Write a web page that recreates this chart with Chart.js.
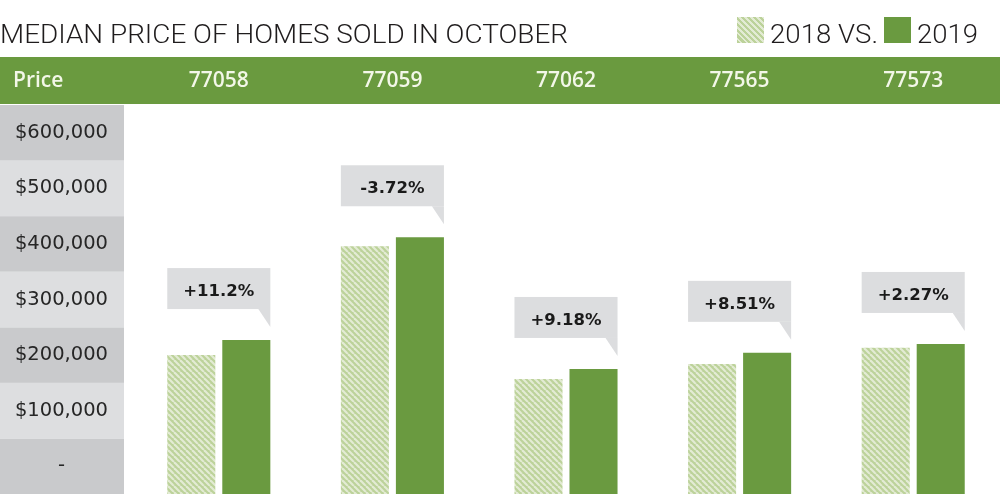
<!DOCTYPE html>
<html>
<head>
<meta charset="utf-8">
<script src="https://cdn.jsdelivr.net/npm/chart.js@4"></script>
<style>
  html, body { margin: 0; padding: 0; background: #fff; }
  #wrap { position: relative; width: 1000px; height: 496px; overflow: hidden; }
  canvas { position: absolute; left: 0; top: 0; }
  .hd { position: absolute; top: 22px; font-family: Roboto; font-weight: 300; font-size: 25px; line-height: 25px; color: #1f1c1d; white-space: nowrap; transform-origin: 0 0; }
  .sw { position: absolute; top: 17px; width: 27px; height: 26px; }
</style>
</head>
<body>
<div id="wrap">
  <canvas id="myChart" width="1000" height="496"></canvas>
  <div class="hd" data-w="568" style="left:0">MEDIAN PRICE OF HOMES SOLD IN OCTOBER</div>
  <div class="sw" style="left:737px;background:repeating-linear-gradient(45deg,#bcd29a 0 2.2px,#e3ebd4 2.2px 4.2px)"></div>
  <div class="hd" data-w="108" style="left:770px">2018 VS.</div>
  <div class="sw" style="left:884px;background:#6a9a40"></div>
  <div class="hd" data-w="61" style="left:917px">2019</div>
</div>
<script>
const zipCodes = ["77058", "77059", "77062", "77565", "77573"];
const price2018 = [200000, 396000, 157000, 184000, 213000];
const price2019 = [227000, 412000, 175000, 204000, 220000];
const changeLabels = ["+11.2%", "-3.72%", "+9.18%", "+8.51%", "+2.27%"];
const priceTicks = [0, 100000, 200000, 300000, 400000, 500000, 600000];
const priceTickLabels = ["-", "$100,000", "$200,000", "$300,000", "$400,000", "$500,000", "$600,000"];

// squeeze the header texts to the condensed widths of the original
document.querySelectorAll(".hd").forEach((el) => {
  const w = el.getBoundingClientRect().width;
  el.style.transform = "scaleX(" + el.dataset.w / w + ")";
});

function hatch() {
  const c = document.createElement("canvas");
  c.width = c.height = 6;
  const g = c.getContext("2d");
  g.fillStyle = "#bcd29a";
  g.fillRect(0, 0, 6, 6);
  g.strokeStyle = "#e3ebd4";
  g.lineWidth = 2.2;
  for (const k of [-1, 0, 1]) {
    g.beginPath();
    g.moveTo(k * 6, 0);
    g.lineTo(k * 6 + 6, 6);
    g.stroke();
  }
  return g.createPattern(c, "repeat");
}

const decor = {
  id: "decor",
  beforeDraw(chart) {
    const { ctx, scales: { y } } = chart;
    ctx.save();
    ctx.fillStyle = "#6a9a3f";
    ctx.fillRect(0, 57, chart.width, 47);
    priceTicks.forEach((v, i) => {
      const top = y.getPixelForValue(v + 50000);
      const bot = y.getPixelForValue(v - 50000);
      ctx.fillStyle = i % 2 === 0 ? "#c9cacc" : "#dddee0";
      ctx.fillRect(0, top, 124, bot - top);
    });
    ctx.fillStyle = "#f3f7e8";
    ctx.font = '600 21px "Open Sans"';
    ctx.textBaseline = "middle";
    ctx.fillText("Price", 13, 81);
    ctx.restore();
  },
  afterDatasetsDraw(chart) {
    const { ctx } = chart;
    const a = chart.getDatasetMeta(0).data;
    const b = chart.getDatasetMeta(1).data;
    ctx.save();
    ctx.font = 'bold 16.5px "DejaVu Sans"';
    ctx.textAlign = "center";
    changeLabels.forEach((t, i) => {
      const l = a[i].x - a[i].width / 2;
      const r = b[i].x + b[i].width / 2;
      const bottom = b[i].y - 31;
      const top = bottom - 41;
      ctx.fillStyle = "#dcdddf";
      ctx.fillRect(l, top, r - l, 41);
      ctx.beginPath();
      ctx.moveTo(r - 12, bottom);
      ctx.lineTo(r, bottom + 18);
      ctx.lineTo(r, bottom);
      ctx.closePath();
      ctx.fill();
      ctx.fillStyle = "#1a1a1a";
      ctx.fillText(t, (l + r) / 2, top + 28);
    });
    ctx.restore();
  },
};

const ctx = document.getElementById("myChart");

new Chart(ctx, {
  type: "bar",
  data: {
    labels: zipCodes,
    datasets: [
      {
        label: "2018",
        data: price2018,
        base: -50000,
        backgroundColor: hatch(),
        categoryPercentage: 0.634,
        barPercentage: 0.873,
      },
      {
        label: "2019",
        data: price2019,
        base: -50000,
        backgroundColor: "#6a9a40",
        categoryPercentage: 0.634,
        barPercentage: 0.873,
      },
    ],
  },
  options: {
    responsive: false,
    animation: false,
    layout: { padding: { top: 57, left: 0, right: 0, bottom: 2 } },
    scales: {
      x: {
        position: "top",
        grid: { display: false, drawTicks: false },
        border: { display: false },
        afterFit: (s) => { s.height = 48; },
        ticks: {
          padding: 11,
          color: "#f3f7e8",
          font: { family: "Open Sans", weight: "600", size: 21 },
        },
      },
      y: {
        min: -50000,
        max: 650000,
        grid: { display: false, drawTicks: false },
        border: { display: false },
        afterBuildTicks: (s) => { s.ticks = priceTicks.map((v) => ({ value: v })); },
        afterFit: (s) => {
          s.width = 132;
          s.paddingTop = 0;
          s.paddingBottom = 0;
        },
        ticks: {
          crossAlign: "center",
          padding: 24,
          color: "#262626",
          font: { family: "DejaVu Sans", size: 19.5 },
          callback: (v) => priceTickLabels[priceTicks.indexOf(v)],
        },
      },
    },
    plugins: {
      legend: { display: false },
      tooltip: { enabled: false },
    },
  },
  plugins: [decor],
});
</script>
</body>
</html>
